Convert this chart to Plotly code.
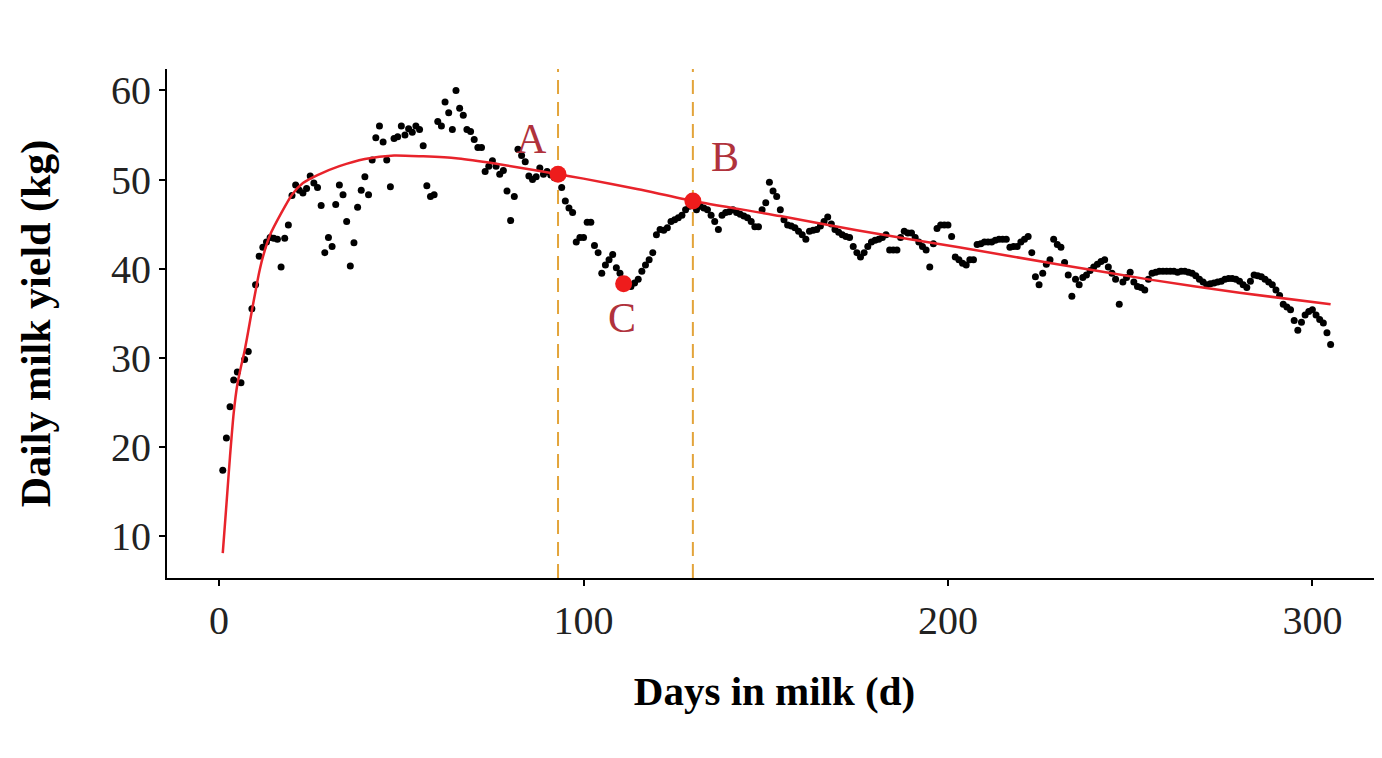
import plotly.graph_objects as go

# ---- Data ----
days = list(range(1, 306))
milk_yield = [
    17.4, 21.0, 24.5, 27.5, 28.4, 27.2, 29.8, 30.7, 35.5, 38.2,
    41.4, 42.4, 43.0, 43.5, 43.4, 43.3, 40.2, 43.4, 44.9, 48.2,
    49.4, 48.8, 48.5, 49.0, 50.4, 49.6, 49.1, 47.1, 41.8, 43.5,
    42.5, 47.2, 49.4, 48.3, 45.3, 40.3, 42.9, 46.9, 48.8, 50.3,
    48.3, 52.2, 54.7, 56.0, 54.2, 52.2, 49.2, 54.6, 54.8, 56.0,
    55.0, 55.7, 55.3, 56.0, 55.6, 53.8, 49.3, 48.1, 48.3, 56.5,
    56.0, 58.7, 57.5, 55.6, 60.0, 58.0, 57.2, 55.6, 55.4, 54.5,
    53.6, 53.6, 50.9, 51.5, 52.1, 51.5, 50.6, 51.0, 48.7, 45.4,
    48.1, 53.4, 52.7, 52.0, 50.4, 50.0, 50.3, 51.3, 50.6, 50.9,
    50.5, 50.2, 50.6, 49.1, 47.6, 46.8, 46.3, 43.0, 43.5, 43.5,
    45.2, 45.2, 42.6, 41.8, 39.5, 40.4, 41.0, 41.6, 40.1, 39.5,
    38.5, 38.3, 38.0, 38.4, 38.8, 39.7, 40.4, 41.0, 41.8, 43.8,
    44.4, 44.3, 44.6, 45.3, 45.5, 45.7, 46.0, 46.6, 47.0, 47.5,
    46.6, 47.0, 46.8, 46.6, 46.0, 45.3, 44.4, 46.0, 46.3, 46.4,
    46.6, 46.3, 46.1, 45.9, 45.7, 45.3, 44.7, 44.7, 46.6, 47.4,
    49.7, 48.7, 48.1, 46.6, 45.5, 44.9, 44.8, 44.6, 44.2, 43.8,
    43.3, 44.2, 44.3, 44.4, 44.8, 45.3, 45.8, 45.0, 44.4, 44.1,
    43.8, 43.6, 43.5, 42.5, 41.8, 41.3, 41.8, 42.5, 43.0, 43.2,
    43.3, 43.5, 43.8, 42.1, 42.1, 42.1, 43.5, 44.2, 44.0, 44.0,
    43.5, 43.0, 42.5, 42.1, 40.2, 42.8, 44.5, 44.9, 44.9, 44.9,
    43.6, 41.3, 41.0, 40.6, 40.4, 41.0, 41.0, 42.7, 42.8, 43.0,
    43.0, 43.0, 43.2, 43.3, 43.3, 43.3, 42.4, 42.5, 42.5, 43.0,
    43.3, 43.6, 41.8, 39.1, 38.2, 39.5, 40.5, 41.0, 43.3, 42.7,
    42.4, 40.7, 39.3, 36.9, 38.8, 38.2, 39.0, 39.3, 39.8, 40.2,
    40.5, 40.8, 41.0, 40.2, 39.5, 38.8, 36.0, 38.5, 39.0, 39.6,
    38.5, 38.0, 37.9, 37.6, 38.8, 39.5, 39.6, 39.7, 39.7, 39.7,
    39.7, 39.7, 39.6, 39.7, 39.7, 39.6, 39.5, 39.2, 38.8, 38.5,
    38.2, 38.3, 38.4, 38.5, 38.6, 38.8, 38.9, 38.9, 38.8, 38.6,
    38.2, 37.9, 38.6, 39.3, 39.2, 39.1, 38.8, 38.5, 38.2, 37.6,
    37.0, 36.0, 35.7, 35.4, 34.2, 33.1, 34.0, 34.8, 35.2, 35.4,
    34.8, 34.3, 33.9, 32.8, 31.5,
]

fit_days = [1, 2, 3, 4, 5, 6, 7, 8, 9, 10, 11, 12, 14, 17, 20, 23, 27, 33,
            40, 48, 56, 65, 74, 83, 93, 100, 115, 130, 154, 175, 203, 230,
            255, 280, 305]
fit_yield = [8.1, 13.5, 19.0, 23.8, 27.0, 29.0, 30.8, 33.0, 35.3, 37.5, 39.6,
             41.3, 43.8, 46.2, 48.3, 49.6, 50.5, 51.5, 52.3, 52.7, 52.6, 52.4,
             51.9, 51.3, 50.6, 50.1, 48.9, 47.6, 45.9, 44.3, 42.4, 40.5, 38.8,
             37.3, 36.0]

key_labels = ["A", "B", "C"]
key_days = [93, 130, 111]
key_yield = [50.6, 47.6, 38.3]
label_shift_x = [-27, 32, -2]
label_shift_y = [35, 44, -34]

dashed_days = [93, 130]

x_ticks = [0, 100, 200, 300]
y_ticks = [10, 20, 30, 40, 50, 60]

FONT = "Liberation Serif, Times New Roman, serif"

fig = go.Figure()

fig.add_trace(go.Scatter(
    x=days, y=milk_yield, mode="markers",
    marker=dict(color="black", size=7),
    showlegend=False, hoverinfo="x+y",
))

fig.add_trace(go.Scatter(
    x=fit_days, y=fit_yield, mode="lines",
    line=dict(color="#e8232b", width=2.5, shape="spline", smoothing=0.6),
    showlegend=False,
))

fig.add_trace(go.Scatter(
    x=key_days, y=key_yield, mode="markers",
    marker=dict(color="#ee1c1c", size=17),
    showlegend=False,
))

for d in dashed_days:
    fig.add_shape(type="line", xref="x", yref="paper", x0=d, x1=d, y0=0, y1=1,
                  line=dict(color="#e3a43a", width=2, dash="14px,8px"), layer="below")

for lab, kd, ky, sx, sy in zip(key_labels, key_days, key_yield, label_shift_x, label_shift_y):
    fig.add_annotation(x=kd, y=ky, text=lab, showarrow=False,
                       xshift=sx, yshift=sy,
                       font=dict(family=FONT, size=42, color="#b0323c"))

fig.update_layout(
    width=1382, height=758,
    margin=dict(l=159, r=8, t=61, b=188),
    plot_bgcolor="white", paper_bgcolor="white",
    font=dict(family=FONT, color="black"),
)

fig.update_xaxes(
    range=[-14.3, 319.1], tickvals=x_ticks, automargin=False,
    showline=True, linecolor="black", linewidth=2,
    ticks="outside", ticklen=6, tickcolor="black", tickwidth=1.5,
    showgrid=False, zeroline=False,
    tickfont=dict(family=FONT, size=40, color="#222"),
    title=dict(text="<b>Days in milk (d)</b>", font=dict(family=FONT, size=41, color="black"), standoff=34),
)
fig.update_yaxes(
    range=[5.3, 62.4], tickvals=y_ticks, automargin=False,
    showline=True, linecolor="black", linewidth=2,
    ticks="outside", ticklen=6, tickcolor="black", tickwidth=1.5,
    showgrid=False, zeroline=False,
    tickfont=dict(family=FONT, size=40, color="#222"),
    title=dict(text="<b>Daily milk yield (kg)</b>", font=dict(family=FONT, size=42, color="black"), standoff=47),
)

fig.write_html("out.html")
